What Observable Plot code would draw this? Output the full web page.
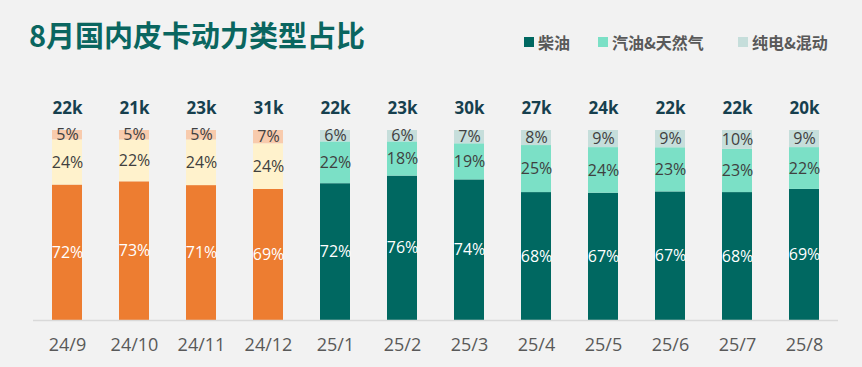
<!DOCTYPE html>
<html>
<head>
<meta charset="utf-8">
<script src="https://cdn.jsdelivr.net/npm/d3@7"></script>
<script src="https://cdn.jsdelivr.net/npm/@observablehq/plot@0.6"></script>
<style>
  html, body { margin: 0; padding: 0; background: #f2f2f2; }
  #wrap { position: relative; width: 862px; height: 367px; overflow: hidden; }
  #title { position: absolute; left: 29px; top: 13px; font-family: "Noto Sans CJK SC", sans-serif; font-weight: 700; font-size: 29px; color: #0a6660; letter-spacing: 0px; white-space: nowrap; }
  #legend { position: absolute; left: 524px; top: 31px; font-family: "Noto Sans CJK SC", sans-serif; font-weight: 700; font-size: 16px; color: #595959; white-space: nowrap; }
  .item { position: absolute; top: 0; display: flex; align-items: center; height: 22px; }
  .sw { width: 10px; height: 10px; margin-right: 4px; }
  #chart { position: absolute; left: 0; top: 0; }
</style>
</head>
<body>
<div id="wrap">
  <div id="chart"></div>
  <div id="title">8月国内皮卡动力类型占比</div>
  <div id="legend"></div>
</div>
<script>
const months = ["24/9","24/10","24/11","24/12","25/1","25/2","25/3","25/4","25/5","25/6","25/7","25/8"];
const diesel = [72,73,71,69,72,76,74,68,67,67,68,69];
const gasoline = [24,22,24,24,22,18,19,25,24,23,23,22];
const electric = [5,5,5,7,6,6,7,8,9,9,10,9];
const totals = ["22k","21k","23k","31k","22k","23k","30k","27k","24k","22k","22k","20k"];
const types = ["柴油","汽油&天然气","纯电&混动"];

const oldColors = ["#ed7d31","#fff2cc","#f8cbad"];
const newColors = ["#006861","#7be0c6","#c6dedb"];

const series = [diesel, gasoline, electric];
const rows = [];
months.forEach((m, i) => {
  types.forEach((t, k) => {
    rows.push({month: m, type: t, k, value: series[k][i], old: i < 4});
  });
});
const totalRows = months.map((m, i) => ({month: m, total: totals[i]}));

const colorOf = d => (d.old ? oldColors : newColors)[d.k];

const plot = Plot.plot({
  width: 862,
  height: 367,
  marginTop: 130,
  marginBottom: 47,
  marginLeft: 33,
  marginRight: 24,
  style: {background: "transparent", fontFamily: "'Open Sans', sans-serif"},
  x: {type: "band", domain: months, paddingInner: 0.545, paddingOuter: 0.2725, label: null},
  y: {domain: [0, 1], axis: null},
  color: {type: "identity"},
  marks: [
    Plot.barY(rows, Plot.stackY({offset: "normalize", x: "month", y: "value", z: "type", fill: colorOf, order: null})),
    Plot.text(rows, Plot.stackY({offset: "normalize", x: "month", y: "value", z: "type", order: null,
      text: d => d.value + "%",
      fill: d => d.k === 0 ? "#ffffff" : "#404040",
      fontSize: 16})),
    Plot.text(totalRows, {x: "month", y: () => 1, text: "total", dy: -22, fontSize: 17, fontWeight: 700, fill: "#163f4e"}),
    Plot.ruleY([0], {stroke: "#d9d9d9", strokeWidth: 1.3}),
    Plot.axisX({tickSize: 0, tickPadding: 18, fontSize: 18, fill: "#595959", label: null})
  ]
});
document.getElementById("chart").appendChild(plot);

const legend = document.getElementById("legend");
const offsets = [0, 74, 214];
types.forEach((t, k) => {
  const it = document.createElement("div");
  it.className = "item";
  it.style.left = offsets[k] + "px";
  const sw = document.createElement("div");
  sw.className = "sw";
  sw.style.background = newColors[k];
  const tx = document.createElement("span");
  tx.textContent = t;
  it.appendChild(sw);
  it.appendChild(tx);
  legend.appendChild(it);
});
</script>
</body>
</html>
